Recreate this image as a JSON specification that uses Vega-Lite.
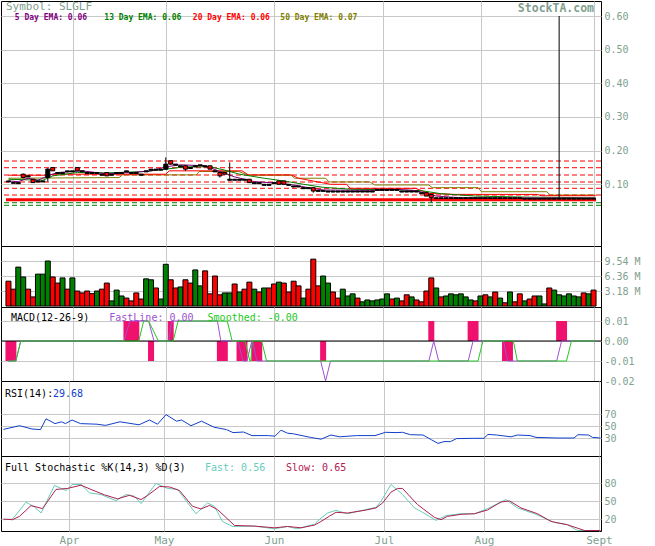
{
"$schema":"https://vega.github.io/schema/vega-lite/v6.json",
"padding":0,"spacing":0,"bounds":"flush","background":"white",
"config":{"view":{"stroke":"black","strokeWidth":1},"axis":{"gridColor":"#c8c8c8","gridWidth":1,"domain":false,"ticks":false,"labelFont":"DejaVu Sans Mono","labelFontSize":10,"labelColor":"#7f9f8f","labelFlush":false,"labelOverlap":false,"labelPadding":3},"text":{"font":"DejaVu Sans Mono"},"mark":{"clip":true}},
"datasets":{
"bars":[
{"i":0,"o":0.107,"c":0.11,"v":5.3,"g":0},{"i":1,"o":0.103,"c":0.105,"v":3.6,"g":0},{"i":2,"o":0.102,"c":0.105,"v":8.3,"g":1},{"i":3,"o":0.13,"c":0.12,"v":6.2,"g":1},{"i":4,"o":0.122,"c":0.125,"v":3.6,"g":0},{"i":5,"o":0.115,"c":0.105,"v":1.95,"g":0},{"i":6,"o":0.107,"c":0.11,"v":6.8,"g":1},{"i":7,"o":0.107,"c":0.11,"v":6.8,"g":1},{"i":8,"o":0.12,"c":0.145,"v":9.6,"g":1},{"i":9,"o":0.15,"c":0.14,"v":6.2,"g":0},
{"i":10,"o":0.132,"c":0.135,"v":4.9,"g":0},{"i":11,"o":0.132,"c":0.135,"v":6.0,"g":1},{"i":12,"o":0.137,"c":0.14,"v":3.6,"g":0},{"i":13,"o":0.137,"c":0.14,"v":6.0,"g":1},{"i":14,"o":0.15,"c":0.14,"v":3.2,"g":0},{"i":15,"o":0.137,"c":0.14,"v":2.8,"g":0},{"i":16,"o":0.132,"c":0.135,"v":3.2,"g":0},{"i":17,"o":0.132,"c":0.135,"v":2.65,"g":0},{"i":18,"o":0.132,"c":0.135,"v":3.2,"g":1},{"i":19,"o":0.127,"c":0.13,"v":3.6,"g":0},
{"i":20,"o":0.135,"c":0.125,"v":4.9,"g":0},{"i":21,"o":0.127,"c":0.13,"v":1.1,"g":1},{"i":22,"o":0.132,"c":0.135,"v":3.4,"g":1},{"i":23,"o":0.132,"c":0.135,"v":2.15,"g":1},{"i":24,"o":0.137,"c":0.14,"v":1.7,"g":0},{"i":25,"o":0.132,"c":0.135,"v":1.1,"g":0},{"i":26,"o":0.132,"c":0.135,"v":2.8,"g":0},{"i":27,"o":0.127,"c":0.13,"v":1.5,"g":0},{"i":28,"o":0.137,"c":0.14,"v":5.8,"g":1},{"i":29,"o":0.142,"c":0.145,"v":5.6,"g":1},
{"i":30,"o":0.142,"c":0.145,"v":3.85,"g":0},{"i":31,"o":0.142,"c":0.145,"v":1.5,"g":1},{"i":32,"o":0.145,"c":0.16,"v":8.9,"g":1},{"i":33,"o":0.17,"c":0.16,"v":5.6,"g":0},{"i":34,"o":0.157,"c":0.16,"v":3.85,"g":0},{"i":35,"o":0.152,"c":0.155,"v":4.07,"g":1},{"i":36,"o":0.155,"c":0.145,"v":5.6,"g":0},{"i":37,"o":0.147,"c":0.15,"v":4.9,"g":0},{"i":38,"o":0.152,"c":0.155,"v":7.7,"g":1},{"i":39,"o":0.155,"c":0.158,"v":4.3,"g":1},
{"i":40,"o":0.152,"c":0.155,"v":7.5,"g":0},{"i":41,"o":0.155,"c":0.145,"v":2.6,"g":0},{"i":42,"o":0.137,"c":0.14,"v":6.4,"g":0},{"i":43,"o":0.135,"c":0.125,"v":2.4,"g":0},{"i":44,"o":0.135,"c":0.13,"v":2.8,"g":1},{"i":45,"o":0.112,"c":0.115,"v":2.8,"g":1},{"i":46,"o":0.112,"c":0.115,"v":4.7,"g":0},{"i":47,"o":0.112,"c":0.115,"v":3.0,"g":1},{"i":48,"o":0.112,"c":0.115,"v":3.6,"g":0},{"i":49,"o":0.115,"c":0.105,"v":5.1,"g":0},
{"i":50,"o":0.102,"c":0.105,"v":3.6,"g":1},{"i":51,"o":0.102,"c":0.105,"v":3.0,"g":0},{"i":52,"o":0.097,"c":0.1,"v":3.85,"g":1},{"i":53,"o":0.097,"c":0.1,"v":3.85,"g":0},{"i":54,"o":0.102,"c":0.105,"v":4.7,"g":0},{"i":55,"o":0.11,"c":0.1,"v":5.1,"g":1},{"i":56,"o":0.11,"c":0.1,"v":4.9,"g":0},{"i":57,"o":0.097,"c":0.1,"v":3.0,"g":0},{"i":58,"o":0.092,"c":0.095,"v":5.3,"g":0},{"i":59,"o":0.092,"c":0.095,"v":4.3,"g":0},
{"i":60,"o":0.087,"c":0.09,"v":1.7,"g":1},{"i":61,"o":0.087,"c":0.09,"v":3.6,"g":0},{"i":62,"o":0.09,"c":0.08,"v":10.0,"g":0},{"i":63,"o":0.079,"c":0.082,"v":4.3,"g":0},{"i":64,"o":0.079,"c":0.082,"v":6.4,"g":1},{"i":65,"o":0.077,"c":0.08,"v":4.9,"g":1},{"i":66,"o":0.077,"c":0.08,"v":3.0,"g":0},{"i":67,"o":0.077,"c":0.08,"v":1.7,"g":0},{"i":68,"o":0.077,"c":0.08,"v":3.6,"g":1},{"i":69,"o":0.077,"c":0.08,"v":2.15,"g":1},
{"i":70,"o":0.077,"c":0.08,"v":2.6,"g":1},{"i":71,"o":0.077,"c":0.08,"v":1.7,"g":0},{"i":72,"o":0.077,"c":0.08,"v":0.9,"g":1},{"i":73,"o":0.077,"c":0.08,"v":1.3,"g":1},{"i":74,"o":0.077,"c":0.08,"v":1.1,"g":1},{"i":75,"o":0.082,"c":0.085,"v":1.3,"g":1},{"i":76,"o":0.082,"c":0.085,"v":1.5,"g":1},{"i":77,"o":0.082,"c":0.085,"v":2.6,"g":1},{"i":78,"o":0.082,"c":0.085,"v":1.5,"g":0},{"i":79,"o":0.082,"c":0.085,"v":1.7,"g":1},
{"i":80,"o":0.077,"c":0.08,"v":1.1,"g":0},{"i":81,"o":0.077,"c":0.08,"v":2.4,"g":0},{"i":82,"o":0.077,"c":0.08,"v":1.95,"g":1},{"i":83,"o":0.077,"c":0.08,"v":1.3,"g":0},{"i":84,"o":0.072,"c":0.075,"v":0.9,"g":0},{"i":85,"o":0.075,"c":0.065,"v":3.2,"g":0},{"i":86,"o":0.07,"c":0.06,"v":6.0,"g":0},{"i":87,"o":0.058,"c":0.06,"v":3.85,"g":1},{"i":88,"o":0.058,"c":0.06,"v":1.95,"g":0},{"i":89,"o":0.058,"c":0.06,"v":2.15,"g":1},
{"i":90,"o":0.058,"c":0.06,"v":2.6,"g":1},{"i":91,"o":0.058,"c":0.06,"v":2.4,"g":1},{"i":92,"o":0.058,"c":0.06,"v":2.6,"g":1},{"i":93,"o":0.058,"c":0.06,"v":1.95,"g":1},{"i":94,"o":0.058,"c":0.06,"v":1.3,"g":1},{"i":95,"o":0.058,"c":0.06,"v":1.1,"g":0},{"i":96,"o":0.058,"c":0.06,"v":2.15,"g":1},{"i":97,"o":0.058,"c":0.06,"v":2.4,"g":0},{"i":98,"o":0.058,"c":0.06,"v":1.95,"g":1},{"i":99,"o":0.058,"c":0.06,"v":3.0,"g":0},
{"i":100,"o":0.058,"c":0.06,"v":1.7,"g":1},{"i":101,"o":0.058,"c":0.06,"v":0.7,"g":0},{"i":102,"o":0.058,"c":0.06,"v":3.0,"g":1},{"i":103,"o":0.058,"c":0.06,"v":0.9,"g":0},{"i":104,"o":0.058,"c":0.06,"v":2.6,"g":0},{"i":105,"o":0.056,"c":0.058,"v":1.1,"g":1},{"i":106,"o":0.056,"c":0.058,"v":1.5,"g":0},{"i":107,"o":0.056,"c":0.058,"v":2.15,"g":0},{"i":108,"o":0.056,"c":0.058,"v":2.15,"g":1},{"i":109,"o":0.056,"c":0.058,"v":0.45,"g":1},
{"i":110,"o":0.056,"c":0.058,"v":3.85,"g":0},{"i":111,"o":0.056,"c":0.058,"v":3.4,"g":1},{"i":112,"o":0.056,"c":0.058,"v":2.4,"g":1},{"i":113,"o":0.056,"c":0.058,"v":2.15,"g":1},{"i":114,"o":0.056,"c":0.058,"v":2.6,"g":1},{"i":115,"o":0.056,"c":0.058,"v":2.15,"g":1},{"i":116,"o":0.056,"c":0.058,"v":1.95,"g":1},{"i":117,"o":0.056,"c":0.058,"v":2.8,"g":0},{"i":118,"o":0.056,"c":0.058,"v":2.6,"g":1},{"i":119,"o":0.056,"c":0.058,"v":3.4,"g":0}
],
"wicks":[{"i":3,"l":0.118,"h":0.132},{"i":8,"l":0.108,"h":0.148},{"i":32,"l":0.143,"h":0.18},{"i":33,"l":0.158,"h":0.172},{"i":36,"l":0.14,"h":0.157},{"i":43,"l":0.12,"h":0.137},{"i":45,"l":0.112,"h":0.165},{"i":62,"l":0.075,"h":0.09},{"i":86,"l":0.047,"h":0.07},{"i":112,"l":0.056,"h":0.6}],
"ema5":[{"i":0,"e":0.11},{"i":2,"e":0.108},{"i":4,"e":0.118},{"i":6,"e":0.112},{"i":8,"e":0.125},{"i":10,"e":0.135},{"i":15,"e":0.14},{"i":20,"e":0.131},{"i":25,"e":0.135},{"i":29,"e":0.14},{"i":32,"e":0.152},{"i":35,"e":0.158},{"i":40,"e":0.155},{"i":43,"e":0.138},{"i":46,"e":0.122},{"i":50,"e":0.108},{"i":55,"e":0.103},{"i":58,"e":0.098},{"i":61,"e":0.09},{"i":64,"e":0.083},{"i":75,"e":0.082},{"i":79,"e":0.085},{"i":83,"e":0.081},{"i":87,"e":0.065},{"i":92,"e":0.06},{"i":119.4,"e":0.059}],
"ema13":[{"i":0,"e":0.115},{"i":7,"e":0.112},{"i":9,"e":0.125},{"i":14,"e":0.135},{"i":20,"e":0.134},{"i":28,"e":0.138},{"i":32,"e":0.145},{"i":36,"e":0.152},{"i":41,"e":0.152},{"i":44,"e":0.142},{"i":47,"e":0.13},{"i":52,"e":0.118},{"i":56,"e":0.11},{"i":60,"e":0.1},{"i":64,"e":0.091},{"i":70,"e":0.085},{"i":78,"e":0.084},{"i":84,"e":0.081},{"i":88,"e":0.072},{"i":95,"e":0.065},{"i":105,"e":0.062},{"i":119.4,"e":0.06}],
"ema20":[{"i":0,"e":0.127},{"i":8,"e":0.127},{"i":9,"e":0.13},{"i":32,"e":0.13},{"i":32.7,"e":0.14},{"i":47.5,"e":0.14},{"i":48.8,"e":0.128},{"i":57.5,"e":0.128},{"i":59,"e":0.118},{"i":65.5,"e":0.1},{"i":68.8,"e":0.1},{"i":69.5,"e":0.088},{"i":82.8,"e":0.088},{"i":85.5,"e":0.073},{"i":90.8,"e":0.07},{"i":107.5,"e":0.07},{"i":108.5,"e":0.066},{"i":119.4,"e":0.066}],
"ema50":[{"i":0,"e":0.118},{"i":22.5,"e":0.12},{"i":23.2,"e":0.128},{"i":38.2,"e":0.128},{"i":38.8,"e":0.138},{"i":46.8,"e":0.138},{"i":48.8,"e":0.127},{"i":57.5,"e":0.127},{"i":58.2,"e":0.118},{"i":64.5,"e":0.118},{"i":65.2,"e":0.107},{"i":73.5,"e":0.107},{"i":74.5,"e":0.098},{"i":85.5,"e":0.098},{"i":86.2,"e":0.09},{"i":95.5,"e":0.09},{"i":96.2,"e":0.078},{"i":109.5,"e":0.078},{"i":110.2,"e":0.068},{"i":119.4,"e":0.068}],
"srRed":[{"v":0.1692},{"v":0.1493},{"v":0.1276},{"v":0.1068},{"v":0.0881},{"v":0.0682}],
"srThick":[{"v":0.0543}],
"srGreen":[{"v":0.0453},{"v":0.0376}],
"hist":[{"i":0,"h":-0.01},{"i":1,"h":-0.01},{"i":24,"h":0.01},{"i":25,"h":0.01},{"i":26,"h":0.01},{"i":29,"h":-0.01},{"i":33,"h":0.01},{"i":43,"h":-0.01},{"i":44,"h":-0.01},{"i":47,"h":-0.01},{"i":48,"h":-0.01},{"i":50,"h":-0.01},{"i":51,"h":-0.01},{"i":64,"h":-0.01},{"i":86,"h":0.01},{"i":94,"h":0.01},{"i":95,"h":0.01},{"i":101,"h":-0.01},{"i":102,"h":-0.01},{"i":112,"h":0.01},{"i":113,"h":0.01}],
"macd":[{"i":0,"m":-0.01},{"i":1.5,"m":-0.01},{"i":2.5,"m":0},{"i":23.5,"m":0},{"i":24.7,"m":0.01},{"i":28.5,"m":0.01},{"i":29.6,"m":0},{"i":32.6,"m":0},{"i":33.2,"m":0.01},{"i":42.5,"m":0.01},{"i":43.2,"m":0},{"i":46.7,"m":0},{"i":47.7,"m":-0.01},{"i":48.5,"m":-0.01},{"i":49.5,"m":0},{"i":49.7,"m":0},{"i":50.5,"m":-0.01},{"i":63.5,"m":-0.01},{"i":64.5,"m":-0.02},{"i":65.5,"m":-0.01},{"i":85.5,"m":-0.01},{"i":86.5,"m":0},{"i":87.5,"m":-0.01},{"i":93.5,"m":-0.01},{"i":94.5,"m":0},{"i":100.7,"m":0},{"i":101.5,"m":-0.01},{"i":111.5,"m":-0.01},{"i":112.5,"m":0},{"i":119.4,"m":0}],
"sig":[{"i":0,"s":-0.01},{"i":1.5,"s":-0.01},{"i":2.5,"s":0},{"i":26.5,"s":0},{"i":27.5,"s":0.01},{"i":28.5,"s":0.01},{"i":30.5,"s":0},{"i":33.5,"s":0},{"i":34.5,"s":0.01},{"i":44.5,"s":0.01},{"i":45.5,"s":0},{"i":48.1,"s":0},{"i":49.1,"s":-0.01},{"i":49.3,"s":-0.01},{"i":49.6,"s":0},{"i":51.5,"s":0},{"i":52.5,"s":-0.01},{"i":95.5,"s":-0.01},{"i":96.5,"s":0},{"i":102.7,"s":0},{"i":103.5,"s":-0.01},{"i":113.5,"s":-0.01},{"i":114.5,"s":0},{"i":119.4,"s":0}],
"rsi":[{"i":0,"r":44.4},{"i":3.2,"r":50.5},{"i":5.7,"r":45},{"i":7.4,"r":44},{"i":8.5,"r":62},{"i":10.3,"r":54},{"i":11.6,"r":57},{"i":12.4,"r":54},{"i":13.7,"r":60},{"i":15.4,"r":54},{"i":18.7,"r":53},{"i":20.4,"r":51},{"i":23.3,"r":57},{"i":27.1,"r":52},{"i":29.2,"r":60},{"i":30.8,"r":53},{"i":32.5,"r":69},{"i":34.6,"r":58},{"i":35.6,"r":60},{"i":37.5,"r":50.5},{"i":39.6,"r":58},{"i":42.1,"r":48},{"i":44.6,"r":44},{"i":45.9,"r":39},{"i":48,"r":40},{"i":49.7,"r":34},{"i":53,"r":34},{"i":54.3,"r":33},{"i":55.5,"r":43},{"i":56.8,"r":38},{"i":58,"r":37},{"i":61.4,"r":31},{"i":63.5,"r":28},{"i":65.5,"r":35},{"i":67.2,"r":32},{"i":70.6,"r":34},{"i":74.3,"r":34},{"i":76.4,"r":39.5},{"i":78.5,"r":39},{"i":79.8,"r":39.5},{"i":81.4,"r":35.5},{"i":83.9,"r":35},{"i":85.6,"r":27},{"i":86.9,"r":21},{"i":88.1,"r":24},{"i":89.4,"r":24},{"i":90.6,"r":29},{"i":94,"r":29.5},{"i":96.1,"r":29.5},{"i":96.9,"r":36},{"i":98.6,"r":35},{"i":101.5,"r":32},{"i":102.8,"r":35},{"i":105.3,"r":34},{"i":106.5,"r":31},{"i":110.7,"r":30},{"i":114.1,"r":30},{"i":114.9,"r":35.5},{"i":117,"r":35},{"i":117.8,"r":31},{"i":119.4,"r":30}],
"fast":[{"i":0,"k":19},{"i":1.8,"k":20},{"i":4.5,"k":48.3},{"i":6.2,"k":40.4},{"i":7.5,"k":30.2},{"i":10.2,"k":76.6},{"i":12.5,"k":68},{"i":13.8,"k":78.2},{"i":15.5,"k":78.2},{"i":17.2,"k":64},{"i":19.5,"k":61.3},{"i":22.5,"k":51},{"i":24.5,"k":61.3},{"i":26.2,"k":58.5},{"i":27.5,"k":46},{"i":30.5,"k":80},{"i":32.8,"k":71.5},{"i":34.8,"k":69.8},{"i":38.5,"k":29},{"i":40.8,"k":47},{"i":42.2,"k":41.5},{"i":43.8,"k":16},{"i":45.8,"k":7.6},{"i":50.2,"k":8.2},{"i":54.2,"k":3.7},{"i":56.8,"k":7.6},{"i":58.8,"k":3.7},{"i":62.2,"k":11.5},{"i":63.5,"k":21.7},{"i":64.8,"k":30.2},{"i":66.5,"k":34.7},{"i":68.8,"k":29},{"i":71.5,"k":34.2},{"i":74.5,"k":39.8},{"i":75.5,"k":50},{"i":77.5,"k":78.2},{"i":79.8,"k":61.3},{"i":82.2,"k":38.7},{"i":83.5,"k":32.9},{"i":86.5,"k":17.8},{"i":88.5,"k":25.8},{"i":91.5,"k":29},{"i":94.2,"k":29},{"i":96.8,"k":37.6},{"i":100.5,"k":52.8},{"i":102.8,"k":38.7},{"i":106.2,"k":29},{"i":110.2,"k":14.4},{"i":112.8,"k":10.5},{"i":114.8,"k":0.8},{"i":119.4,"k":0.8}],
"slow":[{"i":0,"d":20},{"i":1.8,"d":19},{"i":3.2,"d":24.6},{"i":5.5,"d":42.7},{"i":7.8,"d":37.6},{"i":10.5,"d":69.8},{"i":12.8,"d":71.5},{"i":15.5,"d":77},{"i":17.5,"d":69.8},{"i":20.2,"d":60.7},{"i":22.8,"d":54},{"i":25.2,"d":60},{"i":27.5,"d":52.8},{"i":28.8,"d":59.6},{"i":31.2,"d":74.8},{"i":33.2,"d":74},{"i":35.2,"d":68},{"i":37.8,"d":41.5},{"i":39.5,"d":37},{"i":41.2,"d":43},{"i":42.8,"d":36},{"i":46.2,"d":9.3},{"i":50.2,"d":8.2},{"i":54.2,"d":5.4},{"i":56.8,"d":7.6},{"i":59.5,"d":5.4},{"i":62.2,"d":9.9},{"i":63.5,"d":16},{"i":65.2,"d":25},{"i":66.5,"d":31.4},{"i":68.8,"d":30.2},{"i":72.2,"d":34.7},{"i":74.5,"d":38.7},{"i":75.8,"d":47},{"i":77.5,"d":65.3},{"i":78.8,"d":71.5},{"i":79.8,"d":71.5},{"i":82.8,"d":44.4},{"i":86.2,"d":22.9},{"i":87.5,"d":19},{"i":88.8,"d":24.6},{"i":91.5,"d":28},{"i":94.2,"d":29},{"i":96.8,"d":35.3},{"i":99.5,"d":48.8},{"i":101.2,"d":50.5},{"i":103.5,"d":38.7},{"i":106.8,"d":29},{"i":109.5,"d":16},{"i":112.8,"d":10.5},{"i":116.2,"d":0.8},{"i":119.4,"d":0.8}]
},
"vconcat":[
{"width":600,"height":245,"layer":[
{"data":{"name":"srRed"},"mark":{"type":"rule","color":"#ff0000","strokeDash":[5,3],"strokeWidth":1},"encoding":{"y":{"field":"v","type":"quantitative","scale":{"domain":[-0.0833,0.6446],"nice":false,"zero":false},"axis":{"orient":"right","values":[0.1,0.2,0.3,0.4,0.5,0.6],"format":".2f","grid":true,"title":null,"labelOverlap":false,"labelFlush":false}}}},
{"data":{"name":"srThick"},"mark":{"type":"rule","color":"#ff0000","strokeWidth":3,"strokeCap":"square"},"encoding":{"x":{"datum":-0.2,"type":"quantitative","scale":{"domain":[-0.5,119.5],"nice":false,"zero":false},"axis":{"values":[13.1,32.1,54.1,76.1,96.1,119.1],"labels":false,"grid":true,"title":null}},"x2":{"datum":119.2},"y":{"field":"v","type":"quantitative","scale":{"domain":[-0.0833,0.6446],"nice":false,"zero":false},"axis":{"orient":"right","values":[0.1,0.2,0.3,0.4,0.5,0.6],"format":".2f","grid":true,"title":null,"labelOverlap":false,"labelFlush":false}}}},
{"data":{"name":"srGreen"},"mark":{"type":"rule","color":"#008000","strokeDash":[5,3],"strokeWidth":1},"encoding":{"y":{"field":"v","type":"quantitative","scale":{"domain":[-0.0833,0.6446],"nice":false,"zero":false},"axis":{"orient":"right","values":[0.1,0.2,0.3,0.4,0.5,0.6],"format":".2f","grid":true,"title":null,"labelOverlap":false,"labelFlush":false}}}},
{"data":{"name":"ema50"},"mark":{"type":"line","color":"#808000","strokeWidth":1},"encoding":{"x":{"field":"i","type":"quantitative","scale":{"domain":[-0.5,119.5],"nice":false,"zero":false},"axis":{"values":[13.1,32.1,54.1,76.1,96.1,119.1],"labels":false,"grid":true,"title":null}},"y":{"field":"e","type":"quantitative","scale":{"domain":[-0.0833,0.6446],"nice":false,"zero":false},"axis":{"orient":"right","values":[0.1,0.2,0.3,0.4,0.5,0.6],"format":".2f","grid":true,"title":null,"labelOverlap":false,"labelFlush":false}}}},
{"data":{"name":"ema20"},"mark":{"type":"line","color":"#ff0000","strokeWidth":1},"encoding":{"x":{"field":"i","type":"quantitative","scale":{"domain":[-0.5,119.5],"nice":false,"zero":false},"axis":{"values":[13.1,32.1,54.1,76.1,96.1,119.1],"labels":false,"grid":true,"title":null}},"y":{"field":"e","type":"quantitative","scale":{"domain":[-0.0833,0.6446],"nice":false,"zero":false},"axis":{"orient":"right","values":[0.1,0.2,0.3,0.4,0.5,0.6],"format":".2f","grid":true,"title":null,"labelOverlap":false,"labelFlush":false}}}},
{"data":{"name":"ema13"},"mark":{"type":"line","color":"#008000","strokeWidth":1},"encoding":{"x":{"field":"i","type":"quantitative","scale":{"domain":[-0.5,119.5],"nice":false,"zero":false},"axis":{"values":[13.1,32.1,54.1,76.1,96.1,119.1],"labels":false,"grid":true,"title":null}},"y":{"field":"e","type":"quantitative","scale":{"domain":[-0.0833,0.6446],"nice":false,"zero":false},"axis":{"orient":"right","values":[0.1,0.2,0.3,0.4,0.5,0.6],"format":".2f","grid":true,"title":null,"labelOverlap":false,"labelFlush":false}}}},
{"data":{"name":"ema5"},"mark":{"type":"line","color":"#800080","strokeWidth":1},"encoding":{"x":{"field":"i","type":"quantitative","scale":{"domain":[-0.5,119.5],"nice":false,"zero":false},"axis":{"values":[13.1,32.1,54.1,76.1,96.1,119.1],"labels":false,"grid":true,"title":null}},"y":{"field":"e","type":"quantitative","scale":{"domain":[-0.0833,0.6446],"nice":false,"zero":false},"axis":{"orient":"right","values":[0.1,0.2,0.3,0.4,0.5,0.6],"format":".2f","grid":true,"title":null,"labelOverlap":false,"labelFlush":false}}}},
{"data":{"name":"wicks"},"mark":{"type":"rule","color":"black","strokeWidth":1},"encoding":{"x":{"field":"i","type":"quantitative","scale":{"domain":[-0.5,119.5],"nice":false,"zero":false},"axis":{"values":[13.1,32.1,54.1,76.1,96.1,119.1],"labels":false,"grid":true,"title":null}},"y":{"field":"l","type":"quantitative","scale":{"domain":[-0.0833,0.6446],"nice":false,"zero":false},"axis":{"orient":"right","values":[0.1,0.2,0.3,0.4,0.5,0.6],"format":".2f","grid":true,"title":null,"labelOverlap":false,"labelFlush":false}},"y2":{"field":"h"}}},
{"data":{"name":"bars"},"mark":{"type":"bar","width":4,"stroke":"black","strokeWidth":1},"encoding":{"x":{"field":"i","type":"quantitative","scale":{"domain":[-0.5,119.5],"nice":false,"zero":false},"axis":{"values":[13.1,32.1,54.1,76.1,96.1,119.1],"labels":false,"grid":true,"title":null}},"y":{"field":"o","type":"quantitative","scale":{"domain":[-0.0833,0.6446],"nice":false,"zero":false},"axis":{"orient":"right","values":[0.1,0.2,0.3,0.4,0.5,0.6],"format":".2f","grid":true,"title":null,"labelOverlap":false,"labelFlush":false}},"y2":{"field":"c"},"color":{"condition":{"test":"datum.c < datum.o","value":"#ff0000"},"value":"black"}}},
{"data":{"values":[{}]},"mark":{"type":"text","text":"Symbol: SLGLF","align":"left","baseline":"top","fontSize":11,"color":"#7f9f8f"},"encoding":{"x":{"datum":-0.5,"type":"quantitative","scale":{"domain":[-0.5,119.5],"nice":false,"zero":false},"axis":{"values":[13.1,32.1,54.1,76.1,96.1,119.1],"labels":false,"grid":true,"title":null}},"y":{"datum":0.6437,"type":"quantitative","scale":{"domain":[-0.0833,0.6446],"nice":false,"zero":false},"axis":{"orient":"right","values":[0.1,0.2,0.3,0.4,0.5,0.6],"format":".2f","grid":true,"title":null,"labelOverlap":false,"labelFlush":false}}}},
{"data":{"values":[{}]},"mark":{"type":"text","text":"StockTA.com","align":"right","baseline":"top","fontSize":11.5,"fontWeight":"bold","color":"#7f9f8f"},"encoding":{"x":{"datum":119.1,"type":"quantitative","scale":{"domain":[-0.5,119.5],"nice":false,"zero":false},"axis":{"values":[13.1,32.1,54.1,76.1,96.1,119.1],"labels":false,"grid":true,"title":null}},"y":{"datum":0.6387,"type":"quantitative","scale":{"domain":[-0.0833,0.6446],"nice":false,"zero":false},"axis":{"orient":"right","values":[0.1,0.2,0.3,0.4,0.5,0.6],"format":".2f","grid":true,"title":null,"labelOverlap":false,"labelFlush":false}}}},
{"data":{"values":[{}]},"mark":{"type":"text","text":"5 Day EMA: 0.06","align":"left","baseline":"alphabetic","fontSize":8,"fontWeight":"bold","color":"#800080"},"encoding":{"x":{"datum":1.3,"type":"quantitative","scale":{"domain":[-0.5,119.5],"nice":false,"zero":false},"axis":{"values":[13.1,32.1,54.1,76.1,96.1,119.1],"labels":false,"grid":true,"title":null}},"y":{"datum":0.589,"type":"quantitative","scale":{"domain":[-0.0833,0.6446],"nice":false,"zero":false},"axis":{"orient":"right","values":[0.1,0.2,0.3,0.4,0.5,0.6],"format":".2f","grid":true,"title":null,"labelOverlap":false,"labelFlush":false}}}},
{"data":{"values":[{}]},"mark":{"type":"text","text":"13 Day EMA: 0.06","align":"left","baseline":"alphabetic","fontSize":8,"fontWeight":"bold","color":"#008000"},"encoding":{"x":{"datum":19.5,"type":"quantitative","scale":{"domain":[-0.5,119.5],"nice":false,"zero":false},"axis":{"values":[13.1,32.1,54.1,76.1,96.1,119.1],"labels":false,"grid":true,"title":null}},"y":{"datum":0.589,"type":"quantitative","scale":{"domain":[-0.0833,0.6446],"nice":false,"zero":false},"axis":{"orient":"right","values":[0.1,0.2,0.3,0.4,0.5,0.6],"format":".2f","grid":true,"title":null,"labelOverlap":false,"labelFlush":false}}}},
{"data":{"values":[{}]},"mark":{"type":"text","text":"20 Day EMA: 0.06","align":"left","baseline":"alphabetic","fontSize":8,"fontWeight":"bold","color":"#ff0000"},"encoding":{"x":{"datum":37.5,"type":"quantitative","scale":{"domain":[-0.5,119.5],"nice":false,"zero":false},"axis":{"values":[13.1,32.1,54.1,76.1,96.1,119.1],"labels":false,"grid":true,"title":null}},"y":{"datum":0.589,"type":"quantitative","scale":{"domain":[-0.0833,0.6446],"nice":false,"zero":false},"axis":{"orient":"right","values":[0.1,0.2,0.3,0.4,0.5,0.6],"format":".2f","grid":true,"title":null,"labelOverlap":false,"labelFlush":false}}}},
{"data":{"values":[{}]},"mark":{"type":"text","text":"50 Day EMA: 0.07","align":"left","baseline":"alphabetic","fontSize":8,"fontWeight":"bold","color":"#808000"},"encoding":{"x":{"datum":55.3,"type":"quantitative","scale":{"domain":[-0.5,119.5],"nice":false,"zero":false},"axis":{"values":[13.1,32.1,54.1,76.1,96.1,119.1],"labels":false,"grid":true,"title":null}},"y":{"datum":0.589,"type":"quantitative","scale":{"domain":[-0.0833,0.6446],"nice":false,"zero":false},"axis":{"orient":"right","values":[0.1,0.2,0.3,0.4,0.5,0.6],"format":".2f","grid":true,"title":null,"labelOverlap":false,"labelFlush":false}}}}
]},
{"width":600,"height":61,"layer":[
{"data":{"name":"bars"},"mark":{"type":"bar","width":5,"stroke":"black","strokeWidth":1},"encoding":{"x":{"field":"i","type":"quantitative","scale":{"domain":[-0.5,119.5],"nice":false,"zero":false},"axis":{"values":[13.1,32.1,54.1,76.1,96.1,119.1],"labels":false,"grid":true,"title":null}},"y":{"field":"v","type":"quantitative","scale":{"domain":[-0.2,12.8],"nice":false,"zero":false},"axis":{"orient":"right","values":[3.18,6.36,9.54],"labelExpr":"format(datum.value,'.2f') + ' M'","grid":true,"title":null,"labelOverlap":false,"labelFlush":false}},"y2":{"datum":0},"color":{"condition":{"test":"datum.g == 1","value":"#008000"},"value":"#ff0000"}}}
]},
{"width":600,"height":74,"layer":[
{"data":{"name":"hist"},"mark":{"type":"bar","width":6,"color":"#f0106e"},"encoding":{"x":{"field":"i","type":"quantitative","scale":{"domain":[-0.5,119.5],"nice":false,"zero":false},"axis":{"values":[13.1,32.1,54.1,76.1,96.1,119.1],"labels":false,"grid":true,"title":null}},"y":{"field":"h","type":"quantitative","scale":{"domain":[-0.02,0.017],"nice":false,"zero":false},"axis":{"orient":"right","values":[0.01,0,-0.01,-0.02],"labelExpr":"datum.value < 0 ? '-' + format(abs(datum.value),'.2f') : format(datum.value,'.2f')","grid":true,"title":null,"labelOverlap":false,"labelFlush":false}},"y2":{"datum":0}}},
{"data":{"values":[{}]},"mark":{"type":"rule","color":"black","strokeWidth":1},"encoding":{"y":{"datum":0,"type":"quantitative","scale":{"domain":[-0.02,0.017],"nice":false,"zero":false},"axis":{"orient":"right","values":[0.01,0,-0.01,-0.02],"labelExpr":"datum.value < 0 ? '-' + format(abs(datum.value),'.2f') : format(datum.value,'.2f')","grid":true,"title":null,"labelOverlap":false,"labelFlush":false}}}},
{"data":{"name":"macd"},"mark":{"type":"line","color":"#a050d0","strokeWidth":1},"encoding":{"x":{"field":"i","type":"quantitative","scale":{"domain":[-0.5,119.5],"nice":false,"zero":false},"axis":{"values":[13.1,32.1,54.1,76.1,96.1,119.1],"labels":false,"grid":true,"title":null}},"y":{"field":"m","type":"quantitative","scale":{"domain":[-0.02,0.017],"nice":false,"zero":false},"axis":{"orient":"right","values":[0.01,0,-0.01,-0.02],"labelExpr":"datum.value < 0 ? '-' + format(abs(datum.value),'.2f') : format(datum.value,'.2f')","grid":true,"title":null,"labelOverlap":false,"labelFlush":false}}}},
{"data":{"name":"sig"},"mark":{"type":"line","color":"#22c822","strokeWidth":1},"encoding":{"x":{"field":"i","type":"quantitative","scale":{"domain":[-0.5,119.5],"nice":false,"zero":false},"axis":{"values":[13.1,32.1,54.1,76.1,96.1,119.1],"labels":false,"grid":true,"title":null}},"y":{"field":"s","type":"quantitative","scale":{"domain":[-0.02,0.017],"nice":false,"zero":false},"axis":{"orient":"right","values":[0.01,0,-0.01,-0.02],"labelExpr":"datum.value < 0 ? '-' + format(abs(datum.value),'.2f') : format(datum.value,'.2f')","grid":true,"title":null,"labelOverlap":false,"labelFlush":false}}}},
{"data":{"values":[{}]},"mark":{"type":"text","text":"MACD(12-26-9)","align":"left","baseline":"alphabetic","fontSize":10,"color":"black"},"encoding":{"x":{"datum":0.5,"type":"quantitative","scale":{"domain":[-0.5,119.5],"nice":false,"zero":false},"axis":{"values":[13.1,32.1,54.1,76.1,96.1,119.1],"labels":false,"grid":true,"title":null}},"y":{"datum":0.0099,"type":"quantitative","scale":{"domain":[-0.02,0.017],"nice":false,"zero":false},"axis":{"orient":"right","values":[0.01,0,-0.01,-0.02],"labelExpr":"datum.value < 0 ? '-' + format(abs(datum.value),'.2f') : format(datum.value,'.2f')","grid":true,"title":null,"labelOverlap":false,"labelFlush":false}}}},
{"data":{"values":[{}]},"mark":{"type":"text","text":"FastLine: 0.00","align":"left","baseline":"alphabetic","fontSize":10,"color":"#a050d0"},"encoding":{"x":{"datum":20.5,"type":"quantitative","scale":{"domain":[-0.5,119.5],"nice":false,"zero":false},"axis":{"values":[13.1,32.1,54.1,76.1,96.1,119.1],"labels":false,"grid":true,"title":null}},"y":{"datum":0.0099,"type":"quantitative","scale":{"domain":[-0.02,0.017],"nice":false,"zero":false},"axis":{"orient":"right","values":[0.01,0,-0.01,-0.02],"labelExpr":"datum.value < 0 ? '-' + format(abs(datum.value),'.2f') : format(datum.value,'.2f')","grid":true,"title":null,"labelOverlap":false,"labelFlush":false}}}},
{"data":{"values":[{}]},"mark":{"type":"text","text":"Smoothed: -0.00","align":"left","baseline":"alphabetic","fontSize":10,"color":"#22c822"},"encoding":{"x":{"datum":40.5,"type":"quantitative","scale":{"domain":[-0.5,119.5],"nice":false,"zero":false},"axis":{"values":[13.1,32.1,54.1,76.1,96.1,119.1],"labels":false,"grid":true,"title":null}},"y":{"datum":0.0099,"type":"quantitative","scale":{"domain":[-0.02,0.017],"nice":false,"zero":false},"axis":{"orient":"right","values":[0.01,0,-0.01,-0.02],"labelExpr":"datum.value < 0 ? '-' + format(abs(datum.value),'.2f') : format(datum.value,'.2f')","grid":true,"title":null,"labelOverlap":false,"labelFlush":false}}}}
]},
{"width":600,"height":75,"layer":[
{"data":{"name":"rsi"},"mark":{"type":"line","color":"#1040c8","strokeWidth":1},"encoding":{"x":{"field":"i","type":"quantitative","scale":{"domain":[-0.5,119.5],"nice":false,"zero":false},"axis":{"values":[13.1,32.1,54.1,76.1,96.1,119.1],"labels":false,"grid":true,"title":null}},"y":{"field":"r","type":"quantitative","scale":{"domain":[0,125],"nice":false,"zero":false},"axis":{"orient":"right","values":[30,50,70],"grid":true,"title":null,"labelOverlap":false,"labelFlush":false}}}},
{"data":{"values":[{}]},"mark":{"type":"text","text":"RSI(14):","align":"left","baseline":"alphabetic","fontSize":10,"color":"black"},"encoding":{"x":{"datum":0.3,"type":"quantitative","scale":{"domain":[-0.5,119.5],"nice":false,"zero":false},"axis":{"values":[13.1,32.1,54.1,76.1,96.1,119.1],"labels":false,"grid":true,"title":null}},"y":{"datum":98.3,"type":"quantitative","scale":{"domain":[0,125],"nice":false,"zero":false},"axis":{"orient":"right","values":[30,50,70],"grid":true,"title":null,"labelOverlap":false,"labelFlush":false}}}},
{"data":{"values":[{}]},"mark":{"type":"text","text":"29.68","align":"left","baseline":"alphabetic","fontSize":10,"color":"#1040c8"},"encoding":{"x":{"datum":9.9,"type":"quantitative","scale":{"domain":[-0.5,119.5],"nice":false,"zero":false},"axis":{"values":[13.1,32.1,54.1,76.1,96.1,119.1],"labels":false,"grid":true,"title":null}},"y":{"datum":98.3,"type":"quantitative","scale":{"domain":[0,125],"nice":false,"zero":false},"axis":{"orient":"right","values":[30,50,70],"grid":true,"title":null,"labelOverlap":false,"labelFlush":false}}}}
]},
{"width":600,"height":75,"layer":[
{"data":{"name":"fast"},"mark":{"type":"line","color":"#66ccbb","strokeWidth":1},"encoding":{"x":{"field":"i","type":"quantitative","scale":{"domain":[-0.5,119.5],"nice":false,"zero":false},"axis":{"values":[13.1,32.1,54.1,76.1,96.1,119.1],"labels":true,"grid":true,"title":null,"labelFontSize":11,"labelPadding":3,"labelOverlap":false,"labelFlush":false,"labelExpr":"datum.value < 20 ? 'Apr' : datum.value < 40 ? 'May' : datum.value < 60 ? 'Jun' : datum.value < 80 ? 'Jul' : datum.value < 100 ? 'Aug' : 'Sept'"}},"y":{"field":"k","type":"quantitative","scale":{"domain":[0,126],"nice":false,"zero":false},"axis":{"orient":"right","values":[20,50,80],"grid":true,"title":null,"labelOverlap":false,"labelFlush":false}}}},
{"data":{"name":"slow"},"mark":{"type":"line","color":"#b0204f","strokeWidth":1},"encoding":{"x":{"field":"i","type":"quantitative","scale":{"domain":[-0.5,119.5],"nice":false,"zero":false},"axis":{"values":[13.1,32.1,54.1,76.1,96.1,119.1],"labels":true,"grid":true,"title":null,"labelFontSize":11,"labelPadding":3,"labelOverlap":false,"labelFlush":false,"labelExpr":"datum.value < 20 ? 'Apr' : datum.value < 40 ? 'May' : datum.value < 60 ? 'Jun' : datum.value < 80 ? 'Jul' : datum.value < 100 ? 'Aug' : 'Sept'"}},"y":{"field":"d","type":"quantitative","scale":{"domain":[0,126],"nice":false,"zero":false},"axis":{"orient":"right","values":[20,50,80],"grid":true,"title":null,"labelOverlap":false,"labelFlush":false}}}},
{"data":{"values":[{}]},"mark":{"type":"text","text":"Full Stochastic %K(14,3) %D(3)","align":"left","baseline":"alphabetic","fontSize":10,"color":"black"},"encoding":{"x":{"datum":0.3,"type":"quantitative","scale":{"domain":[-0.5,119.5],"nice":false,"zero":false},"axis":{"values":[13.1,32.1,54.1,76.1,96.1,119.1],"labels":true,"grid":true,"title":null,"labelFontSize":11,"labelPadding":3,"labelOverlap":false,"labelFlush":false,"labelExpr":"datum.value < 20 ? 'Apr' : datum.value < 40 ? 'May' : datum.value < 60 ? 'Jun' : datum.value < 80 ? 'Jul' : datum.value < 100 ? 'Aug' : 'Sept'"}},"y":{"datum":100.8,"type":"quantitative","scale":{"domain":[0,126],"nice":false,"zero":false},"axis":{"orient":"right","values":[20,50,80],"grid":true,"title":null,"labelOverlap":false,"labelFlush":false}}}},
{"data":{"values":[{}]},"mark":{"type":"text","text":"Fast: 0.56","align":"left","baseline":"alphabetic","fontSize":10,"color":"#66ccbb"},"encoding":{"x":{"datum":40.3,"type":"quantitative","scale":{"domain":[-0.5,119.5],"nice":false,"zero":false},"axis":{"values":[13.1,32.1,54.1,76.1,96.1,119.1],"labels":true,"grid":true,"title":null,"labelFontSize":11,"labelPadding":3,"labelOverlap":false,"labelFlush":false,"labelExpr":"datum.value < 20 ? 'Apr' : datum.value < 40 ? 'May' : datum.value < 60 ? 'Jun' : datum.value < 80 ? 'Jul' : datum.value < 100 ? 'Aug' : 'Sept'"}},"y":{"datum":100.8,"type":"quantitative","scale":{"domain":[0,126],"nice":false,"zero":false},"axis":{"orient":"right","values":[20,50,80],"grid":true,"title":null,"labelOverlap":false,"labelFlush":false}}}},
{"data":{"values":[{}]},"mark":{"type":"text","text":"Slow: 0.65","align":"left","baseline":"alphabetic","fontSize":10,"color":"#b0204f"},"encoding":{"x":{"datum":56.5,"type":"quantitative","scale":{"domain":[-0.5,119.5],"nice":false,"zero":false},"axis":{"values":[13.1,32.1,54.1,76.1,96.1,119.1],"labels":true,"grid":true,"title":null,"labelFontSize":11,"labelPadding":3,"labelOverlap":false,"labelFlush":false,"labelExpr":"datum.value < 20 ? 'Apr' : datum.value < 40 ? 'May' : datum.value < 60 ? 'Jun' : datum.value < 80 ? 'Jul' : datum.value < 100 ? 'Aug' : 'Sept'"}},"y":{"datum":100.8,"type":"quantitative","scale":{"domain":[0,126],"nice":false,"zero":false},"axis":{"orient":"right","values":[20,50,80],"grid":true,"title":null,"labelOverlap":false,"labelFlush":false}}}}
]}
]
}
